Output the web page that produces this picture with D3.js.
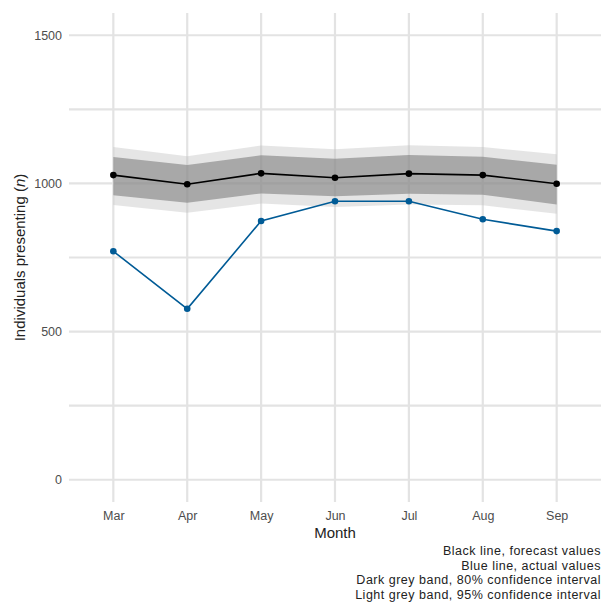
<!DOCTYPE html>
<html><head><meta charset="utf-8">
<script src="https://cdn.jsdelivr.net/npm/d3@7"></script>
<style>body{margin:0;background:#fff}svg{display:block}text{font-family:"Liberation Sans",Arial,sans-serif}</style>
</head><body>
<svg id="c" width="603" height="603"></svg>
<script>
const months = ["Mar","Apr","May","Jun","Jul","Aug","Sep"];
const forecast = [1028, 997, 1034, 1019, 1033, 1028, 999];
const lo80 = [960, 935, 966, 957, 965, 962, 929];
const hi80 = [1089, 1062, 1095, 1083, 1096, 1090, 1063];
const lo95 = [927, 901, 932, 920, 929, 926, 898];
const hi95 = [1123, 1092, 1128, 1115, 1129, 1123, 1098];
const actual = [771, 577, 873, 940, 940, 879, 839];
const yTicks = [0, 500, 1000, 1500];
const yMinor = [250, 750, 1250];
const captionLines = ["Black line, forecast values","Blue line, actual values","Dark grey band, 80% confidence interval","Light grey band, 95% confidence interval"];

const svg = d3.select("#c");
const L = 69, R = 601, T = 13, B = 502;
const x = d3.scalePoint().domain(months).range([L, R]).padding(0.6);
const y = d3.scaleLinear().domain([-75, 1575]).range([B, T]);
const grid = "#e3e3e3";

const g = svg.append("g");
g.selectAll(".hm").data(yMinor).join("line")
  .attr("x1", L).attr("x2", R).attr("y1", d => y(d)).attr("y2", d => y(d))
  .attr("stroke", grid).attr("stroke-width", 2.2);
g.selectAll(".hM").data(yTicks).join("line")
  .attr("x1", L).attr("x2", R).attr("y1", d => y(d)).attr("y2", d => y(d))
  .attr("stroke", grid).attr("stroke-width", 2.2);
g.selectAll(".v").data(months).join("line")
  .attr("x1", d => x(d)).attr("x2", d => x(d)).attr("y1", T).attr("y2", B)
  .attr("stroke", grid).attr("stroke-width", 2.2);

const idx = d3.range(months.length);
const area95 = d3.area().x(i => x(months[i])).y0(i => y(lo95[i])).y1(i => y(hi95[i]));
const area80 = d3.area().x(i => x(months[i])).y0(i => y(lo80[i])).y1(i => y(hi80[i]));
g.append("path").attr("d", area95(idx)).attr("fill", "#bfbfbf").attr("fill-opacity", 0.4);
g.append("path").attr("d", area80(idx)).attr("fill", "#7f7f7f").attr("fill-opacity", 0.6);

const lineF = d3.line().x(i => x(months[i])).y(i => y(forecast[i]));
const lineA = d3.line().x(i => x(months[i])).y(i => y(actual[i]));
g.append("path").attr("d", lineF(idx)).attr("fill", "none").attr("stroke", "#000").attr("stroke-width", 1.6);
g.selectAll(".pf").data(idx).join("circle").attr("cx", i => x(months[i])).attr("cy", i => y(forecast[i])).attr("r", 3.3).attr("fill", "#000");
const blue = "#005b96";
g.append("path").attr("d", lineA(idx)).attr("fill", "none").attr("stroke", blue).attr("stroke-width", 1.6);
g.selectAll(".pa").data(idx).join("circle").attr("cx", i => x(months[i])).attr("cy", i => y(actual[i])).attr("r", 3.3).attr("fill", blue);

// axes
const yAxis = d3.axisLeft(y).tickValues(yTicks).tickFormat(d3.format("d")).tickSize(0).tickPadding(7);
const ya = svg.append("g").attr("transform", `translate(${L},0)`).call(yAxis);
ya.select(".domain").remove();
ya.selectAll("text").attr("font-size", 12.5).attr("fill", "#4d4d4d").style("font-family", "'Liberation Sans', sans-serif");

const xAxis = d3.axisBottom(x).tickSize(0).tickPadding(9);
const xa = svg.append("g").attr("transform", `translate(0,${B})`).call(xAxis);
xa.select(".domain").remove();
xa.selectAll("text").attr("font-size", 12.5).attr("fill", "#4d4d4d").style("font-family", "'Liberation Sans', sans-serif");

svg.append("text").attr("x", (L + R) / 2).attr("y", 538).attr("text-anchor", "middle")
  .attr("font-size", 15).attr("fill", "#222").text("Month");

const yt = svg.append("text").attr("transform", `translate(25,${(T + B) / 2}) rotate(-90)`)
  .attr("text-anchor", "middle").attr("font-size", 15).attr("fill", "#222");
yt.append("tspan").text("Individuals presenting (");
yt.append("tspan").attr("font-style", "italic").text("n");
yt.append("tspan").text(")");

svg.append("g").selectAll("text").data(captionLines).join("text")
  .attr("x", 601).attr("y", (d, i) => 555 + i * 14.6).attr("text-anchor", "end")
  .attr("font-size", 12.5).attr("letter-spacing", 0.5).attr("fill", "#222").text(d => d);
</script>
</body></html>
